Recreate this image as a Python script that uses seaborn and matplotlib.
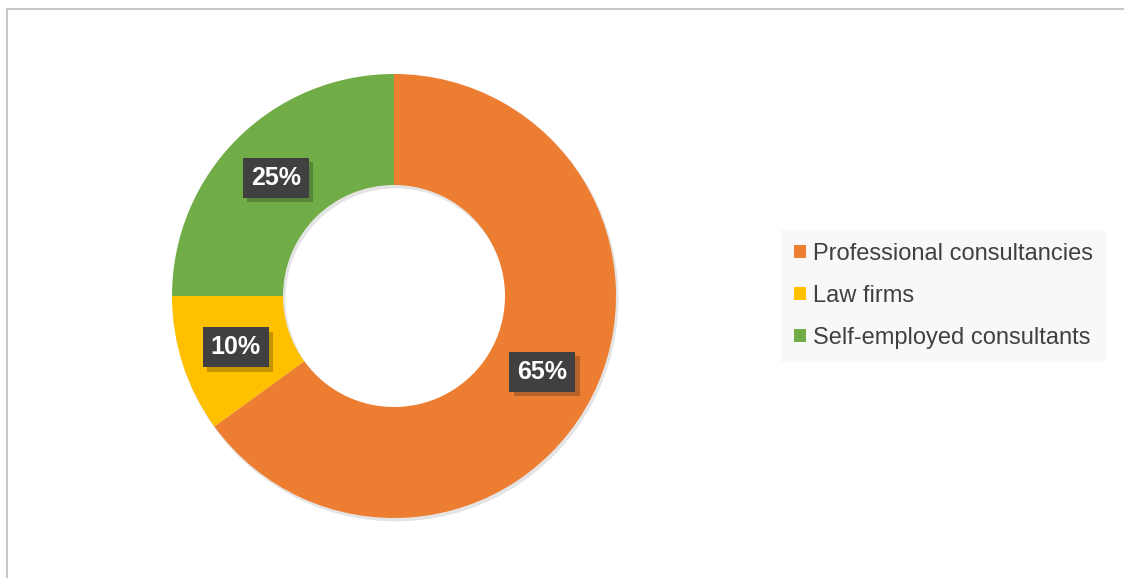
import matplotlib.pyplot as plt
import matplotlib.patheffects as pe
from matplotlib.patches import Patch, Wedge
from matplotlib.lines import Line2D
import seaborn as sns

# datos del grafico
categories = ['Professional consultancies', 'Law firms', 'Self-employed consultants']
shares = [65, 10, 25]
colors = ['#ED7D31', '#FFC000', '#70AD47']

sns.set_style('white')
plt.rcParams['font.family'] = ['Liberation Sans', 'DejaVu Sans']

W, H = 1124, 578
fig = plt.figure(figsize=(W / 100, H / 100), dpi=100)

# ejes cuadrados para el donut (centro ~ (394, 296), radio ~ 222 px)
cx, cy, r = 394, 296, 222
pad = 8
ax = fig.add_axes([(cx - r - pad) / W, (H - cy - r - pad) / H, 2 * (r + pad) / W, 2 * (r + pad) / H])

wedges, texts, autotexts = ax.pie(
    shares,
    colors=colors,
    startangle=90,
    counterclock=False,
    radius=1,
    autopct='%d%%',
    pctdistance=0.75,
    wedgeprops={'width': 0.5, 'edgecolor': 'none'},
    textprops={'color': 'white', 'fontsize': 18, 'fontweight': 'bold'},
)

# sombra suave alrededor del anillo (solo el anillo, no el hueco)
ring_shadow = Wedge((0.008, -0.012), 1.0, 0, 360, width=0.5, color='#e4e4e4', zorder=0)
ax.add_patch(ring_shadow)

for t in autotexts:
    t.set_bbox(dict(boxstyle='square,pad=0.32', facecolor='#404040', edgecolor='none'))
    t.get_bbox_patch().set_path_effects([pe.SimplePatchShadow(offset=(3, -3), alpha=0.25), pe.Normal()])

lim = 1 + pad / r
ax.set_xlim(-lim, lim)
ax.set_ylim(-lim, lim)
ax.set_aspect('equal')
ax.axis('off')

# leyenda a la derecha
handles = [Patch(facecolor=c, edgecolor='none') for c in colors]
leg = fig.legend(
    handles, categories,
    loc='center left',
    bbox_to_anchor=(781 / W, 1 - 296 / H),
    frameon=True, fancybox=False,
    fontsize=17,
    handlelength=0.5, handleheight=0.5, handletextpad=0.3,
    labelspacing=0.85, borderpad=0.55, borderaxespad=0,
    labelcolor='#404040',
)
leg.get_frame().set_facecolor('#f7f7f7')
leg.get_frame().set_edgecolor('none')

# marco gris del grafico (arriba e izquierda)
fig.add_artist(Line2D([7 / W, 1], [1 - 8.5 / H, 1 - 8.5 / H], color='#c8c8c8', linewidth=1.5))
fig.add_artist(Line2D([7 / W, 7 / W], [0, 1 - 8.5 / H], color='#c8c8c8', linewidth=1.5))

plt.savefig('out.png', dpi=100)
plt.close()
